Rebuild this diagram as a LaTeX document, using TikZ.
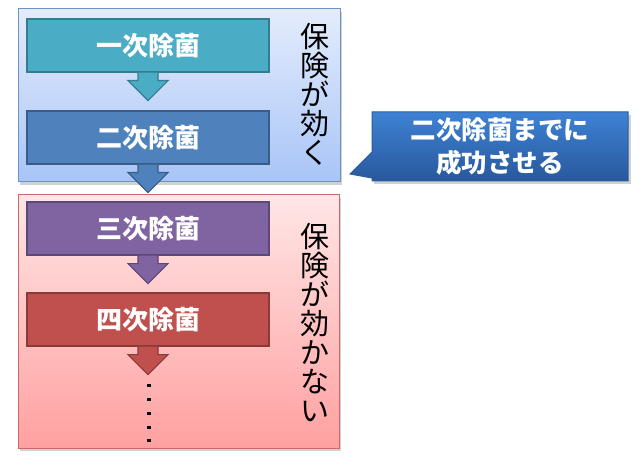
\documentclass[tikz,border=0pt]{standalone}
\usepackage{fontspec}
\usetikzlibrary{calc}
\newfontfamily\jpfont{Noto Sans CJK JP}
\definecolor{tealstep}{HTML}{4BACC6}
\definecolor{bluestep}{HTML}{4F81BD}
\definecolor{purplestep}{HTML}{8064A2}
\definecolor{redstep}{HTML}{C0504D}
\definecolor{panelblue}{HTML}{E4ECFC}
\definecolor{panelbluelow}{HTML}{A8C5F7}
\definecolor{panelred}{HTML}{FFE6E6}
\definecolor{panelredlow}{HTML}{FFA0A0}
\definecolor{calloutline}{HTML}{2C5D9B}
\definecolor{callouttop}{HTML}{3E82D4}
\definecolor{calloutlow}{HTML}{28589C}
\tikzset{
  stepbox/.style={draw=#1!72!black, fill=#1, line width=1.2pt, minimum width=242, minimum height=53,
    inner sep=0pt, text=white, font=\jpfont\bfseries\fontsize{26}{30}\selectfont},
  sidetext/.style={align=center, inner sep=0pt, font=\jpfont\fontsize{29}{29}\selectfont},
  panelshadow/.style={fill=black!18}
}
\newcommand{\blockarrow}[2]{\path[draw=#2!72!black, fill=#2, line width=1.2pt]
  ($(#1.south)+(-10,0)$) -- ++(0,8) -- ++(-10,0) -- ($(#1.south)+(0,28)$) -- ($(#1.south)+(20,8)$)
  -- ++(-10,0) -- ++(0,-8);}

\begin{document}
\begin{tikzpicture}[x=1pt,y=-1pt]
			%%%%% START %%%%%
			\useasboundingbox (0,0) rectangle (643,468);
			
			\fill[panelshadow] (20,12) rectangle (342,185);
			\draw[draw=bluestep!85, line width=1pt, top color=panelblue, bottom color=panelbluelow] (18,9) rectangle (340,182);
			
			\fill[panelshadow] (20,198) rectangle (341,451);
			\draw[draw=redstep!85, line width=1pt, top color=panelred, bottom color=panelredlow] (18,195) rectangle (339,448);
			
			\node[stepbox=tealstep] (first) at (148,45.5) {一次除菌};
			\node[stepbox=bluestep] (second) at (148,137.5) {二次除菌};
			\node[stepbox=purplestep] (third) at (148,228.5) {三次除菌};
			\node[stepbox=redstep] (fourth) at (148,319.5) {四次除菌};
			
			\blockarrow{first}{tealstep}
			\blockarrow{second}{bluestep}
			\blockarrow{third}{purplestep}
			\blockarrow{fourth}{redstep}
			
			\foreach \y in {385,399,413,427,440}
				\fill[black] (146.5,\y-1.5) rectangle (150.5,\y+1.5);
			
			\node[sidetext] (works) at (315,94.5) {保\\険\\が\\効\\く};
			\node[sidetext] (fails) at (315,322) {保\\険\\が\\効\\か\\な\\い};
			
			\fill[panelshadow] (374,115) rectangle (631,184);
			\draw[draw=calloutline, line width=1pt, top color=callouttop, bottom color=calloutlow]
				(372,112) -- (628,112) -- (628,181) -- (372,181) -- (372,178) -- (350,174) -- (372,152) -- cycle;
			\node[align=center, text=white, font=\jpfont\bfseries\fontsize{25.5}{33}\selectfont] (goal) at (500,146.5) {二次除菌までに\\成功させる};
			
			%%%%% END %%%%%
\end{tikzpicture}
\end{document}
